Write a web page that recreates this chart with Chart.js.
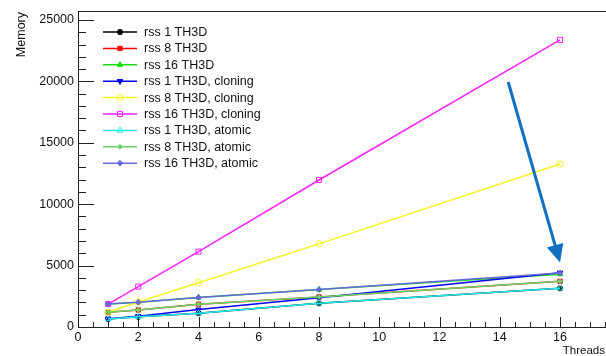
<!DOCTYPE html>
<html>
<head>
<meta charset="utf-8">
<style>
  html, body { margin: 0; padding: 0; background: #ffffff; }
  #c { display: block; }
</style>
<script src="https://cdn.jsdelivr.net/npm/chart.js@4.4.1/dist/chart.umd.min.js"></script>
</head>
<body>
<canvas id="c" width="606" height="356"></canvas>
<script>
// ---------------- data ----------------
const threads = [1, 2, 4, 8, 16];
const seriesNames = [
  'rss 1 TH3D', 'rss 8 TH3D', 'rss 16 TH3D',
  'rss 1 TH3D, cloning', 'rss 8 TH3D, cloning', 'rss 16 TH3D, cloning',
  'rss 1 TH3D, atomic', 'rss 8 TH3D, atomic', 'rss 16 TH3D, atomic'
];
const rss1   = [650, 830, 1120, 1930, 3150];
const rss8   = [1200, 1390, 1860, 2450, 3720];
const rss16  = [1870, 2010, 2400, 3050, 4300];
const rss1Cloning  = [680, 870, 1420, 2380, 4420];
const rss8Cloning  = [1200, 2030, 3610, 6770, 13270];
const rss16Cloning = [1870, 3290, 6140, 11970, 23380];
const rss1Atomic  = [650, 830, 1120, 1930, 3150];
const rss8Atomic  = [1200, 1390, 1860, 2450, 3720];
const rss16Atomic = [1870, 2010, 2400, 3050, 4400];
const seriesValues = [rss1, rss8, rss16, rss1Cloning, rss8Cloning, rss16Cloning, rss1Atomic, rss8Atomic, rss16Atomic];

const xTickValues = [0, 2, 4, 6, 8, 10, 12, 14, 16];
const yTickValues = [0, 5000, 10000, 15000, 20000, 25000];
const xTitle = 'Threads';
const yTitle = 'Memory';
// annotation arrow (data coordinates): from, to
const arrowFrom = [14.28, 19950];
const arrowTo = [16.0, 5250];

// ---------------- styles ----------------
const FONT = '"Liberation Sans", Arial, Helvetica, sans-serif';
const styles = [
  { color: '#000000', fill: '#000000', pointStyle: 'circle',   radius: 2.6, rotation: 0 },
  { color: '#ff0000', fill: '#ff0000', pointStyle: 'rect',     radius: 3,   rotation: 0 },
  { color: '#19dd19', fill: '#19dd19', pointStyle: 'triangle', radius: 3.2, rotation: 0 },
  { color: '#0000ff', fill: '#0000ff', pointStyle: 'triangle', radius: 3.2, rotation: 180 },
  { color: '#f4f422', fill: 'rgba(0,0,0,0)', pointStyle: 'circle',   radius: 3.2, rotation: 0 },
  { color: '#ff22ff', fill: 'rgba(0,0,0,0)', pointStyle: 'rect',     radius: 3.6, rotation: 0 },
  { color: '#22eaea', fill: 'rgba(0,0,0,0)', pointStyle: 'triangle', radius: 3.4, rotation: 0 },
  { color: '#66d466', fill: '#66d466', pointStyle: 'rectRot',  radius: 2.4, rotation: 0 },
  { color: '#6868dc', fill: '#6868dc', pointStyle: 'rectRot',  radius: 2.8, rotation: 0 }
];

const datasets = seriesNames.map((name, i) => ({
  label: name,
  data: threads.map((t, j) => ({ x: t, y: seriesValues[i][j] })),
  showLine: true,
  borderColor: styles[i].color,
  backgroundColor: styles[i].fill,
  pointBorderColor: styles[i].color,
  pointBackgroundColor: styles[i].fill,
  pointStyle: styles[i].pointStyle,
  pointRotation: styles[i].rotation,
  pointRadius: styles[i].radius,
  pointBorderWidth: 1,
  borderWidth: 1.5,
  tension: 0,
  fill: false,
  order: seriesNames.length - i
}));

// ---------------- plugins ----------------
const rootAxes = {
  id: 'rootAxes',
  afterDatasetsDraw(chart) {
    const { ctx, chartArea: a, scales: { x, y } } = chart;
    const W = chart.width;
    ctx.save();
    ctx.strokeStyle = '#222';
    ctx.lineWidth = 1;
    ctx.beginPath();
    // frame: top line and bottom axis line running to the picture edge
    ctx.moveTo(a.left, a.top + 0.5); ctx.lineTo(W, a.top + 0.5);
    ctx.moveTo(a.right - 1, a.bottom + 0.5); ctx.lineTo(W, a.bottom + 0.5);
    // y ticks (inward)
    for (let v = 0; v <= y.max; v += 1000) {
      const py = Math.round(y.getPixelForValue(v)) + 0.5;
      const len = (v % 5000 === 0) ? 16 : 8;
      ctx.moveTo(a.left, py); ctx.lineTo(a.left + len, py);
    }
    // x ticks (inward)
    for (let v = 0; x.getPixelForValue(v) <= W; v += 0.5) {
      const px = Math.round(x.getPixelForValue(v)) + 0.5;
      const len = (Math.abs(v % 2) < 1e-9) ? 10 : 5;
      ctx.moveTo(px, a.bottom); ctx.lineTo(px, a.bottom - len);
    }
    ctx.stroke();

    // axis titles
    ctx.fillStyle = '#111';
    ctx.font = '11.5px ' + FONT;
    ctx.textAlign = 'right';
    ctx.textBaseline = 'alphabetic';
    ctx.fillText(xTitle, W - 1, 354);
    ctx.font = '12.5px ' + FONT;
    ctx.translate(25, 12);
    ctx.rotate(-Math.PI / 2);
    ctx.textAlign = 'right';
    ctx.fillText(yTitle, 0, 0);
    ctx.restore();
  }
};

const arrowPlugin = {
  id: 'arrow',
  afterDatasetsDraw(chart) {
    const { ctx, scales: { x, y } } = chart;
    const x1 = x.getPixelForValue(arrowFrom[0]), y1 = y.getPixelForValue(arrowFrom[1]);
    const x2 = x.getPixelForValue(arrowTo[0]), y2 = y.getPixelForValue(arrowTo[1]);
    const ang = Math.atan2(y2 - y1, x2 - x1);
    const headLen = 18, headHalf = 8.5;
    const bx = x2 - headLen * Math.cos(ang), by = y2 - headLen * Math.sin(ang);
    ctx.save();
    ctx.strokeStyle = '#0f70c2';
    ctx.fillStyle = '#0f70c2';
    ctx.lineWidth = 3;
    ctx.beginPath();
    ctx.moveTo(x1, y1); ctx.lineTo(bx + 2 * Math.cos(ang), by + 2 * Math.sin(ang));
    ctx.stroke();
    ctx.beginPath();
    ctx.moveTo(x2, y2);
    ctx.lineTo(bx + headHalf * Math.sin(ang), by - headHalf * Math.cos(ang));
    ctx.lineTo(bx - headHalf * Math.sin(ang), by + headHalf * Math.cos(ang));
    ctx.closePath();
    ctx.fill();
    ctx.restore();
  }
};

const rootLegend = {
  id: 'rootLegend',
  afterDraw(chart) {
    const { ctx } = chart;
    const top = 32, step = 16.4, lx1 = 103, lx2 = 137, mx = 120, tx = 144;
    ctx.save();
    chart.data.datasets.forEach((ds, i) => {
      const yy = top + i * step;
      ctx.strokeStyle = ds.borderColor;
      ctx.lineWidth = 1.5;
      ctx.beginPath();
      ctx.moveTo(lx1, yy); ctx.lineTo(lx2, yy);
      ctx.stroke();
      ctx.strokeStyle = ds.pointBorderColor;
      ctx.fillStyle = ds.pointBackgroundColor;
      ctx.lineWidth = 1;
      if (Chart.helpers && Chart.helpers.drawPoint) {
        Chart.helpers.drawPoint(ctx, {
          pointStyle: ds.pointStyle, radius: ds.pointRadius,
          rotation: ds.pointRotation, borderWidth: 1
        }, mx, yy);
      }
      ctx.fillStyle = '#111';
      ctx.font = '12.5px ' + FONT;
      ctx.textAlign = 'left';
      ctx.textBaseline = 'middle';
      ctx.fillText(ds.label, tx, yy + 0.5);
    });
    ctx.restore();
  }
};

// ---------------- chart ----------------
new Chart(document.getElementById('c'), {
  type: 'scatter',
  data: { datasets },
  plugins: [rootAxes, arrowPlugin, rootLegend],
  options: {
    responsive: false,
    animation: false,
    devicePixelRatio: 1,
    layout: { padding: { top: 11, right: 0, left: 0, bottom: 0 } },
    plugins: { legend: { display: false }, tooltip: { enabled: false } },
    scales: {
      x: {
        type: 'linear',
        min: 0,
        max: 17.36,
        afterBuildTicks: (s) => { s.ticks = xTickValues.map(v => ({ value: v })); },
        afterFit: (s) => { s.height = 29; s.paddingLeft = 0; s.paddingRight = 0; },
        grid: { display: false, drawTicks: false },
        border: { display: true, color: '#222', width: 1 },
        ticks: {
          color: '#111', padding: 3, maxRotation: 0, autoSkip: false,
          font: { family: FONT, size: 12.5 },
          callback: (v) => String(v)
        }
      },
      y: {
        type: 'linear',
        min: 0,
        max: 25730,
        afterBuildTicks: (s) => { s.ticks = yTickValues.map(v => ({ value: v })); },
        afterFit: (s) => { s.width = 78; s.paddingTop = 0; s.paddingBottom = 0; },
        grid: { display: false, drawTicks: false },
        border: { display: true, color: '#222', width: 1 },
        ticks: {
          color: '#111', padding: 4, autoSkip: false,
          font: { family: FONT, size: 12.5 },
          callback: (v) => String(v)
        }
      }
    }
  }
});
</script>
</body>
</html>
